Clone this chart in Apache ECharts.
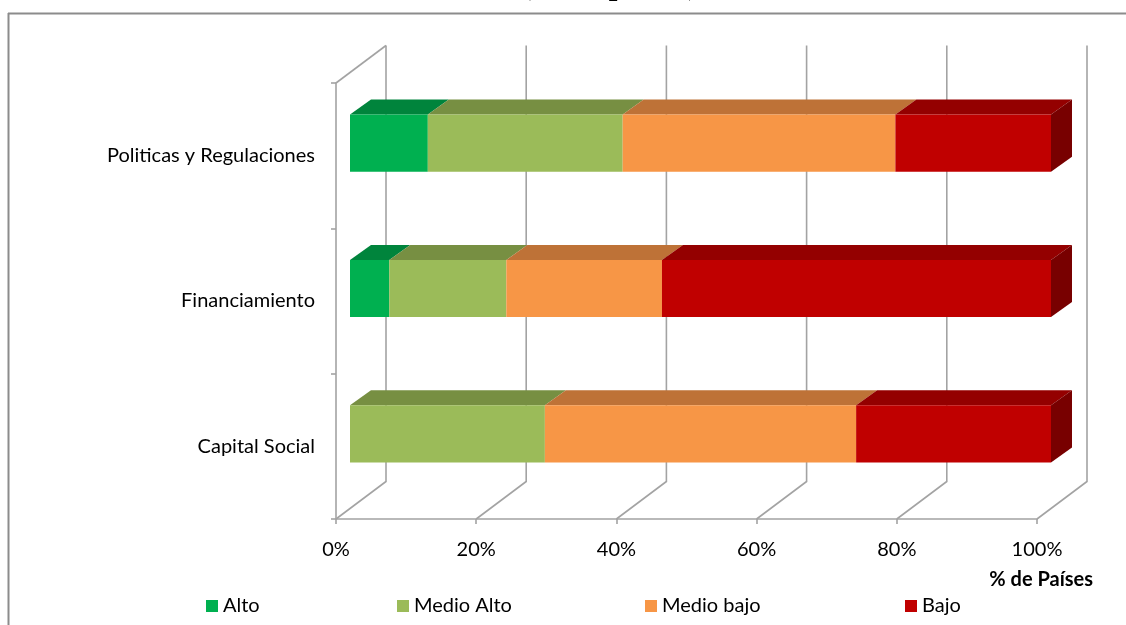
<!DOCTYPE html>
<html>
<head>
<meta charset="utf-8">
<style>
  html, body { margin: 0; padding: 0; background: #ffffff; }
  #chart { width: 1126px; height: 625px; }
</style>
<script src="https://cdn.jsdelivr.net/npm/echarts@6/dist/echarts.min.js"></script>
</head>
<body>
<div id="chart"></div>
<script>
// Categories (top to bottom) and share of countries per level, in %
const categories = ['Politicas y Regulaciones', 'Financiamiento', 'Capital Social'];
const alto = [11.1, 5.6, 0];
const medioAlto = [27.8, 16.7, 27.8];
const medioBajo = [38.9, 22.2, 44.4];
const bajo = [22.2, 55.5, 27.8];
const levelNames = ['Alto', 'Medio Alto', 'Medio bajo', 'Bajo'];
const xTicks = [0, 20, 40, 60, 80, 100];

// face colours: front, top, right side
const palette = [
  { front: '#00B050', top: '#00843C', side: '#006A30' },
  { front: '#9BBB59', top: '#778F42', side: '#5F7335' },
  { front: '#F79646', top: '#BE7237', side: '#98592A' },
  { front: '#C00000', top: '#940000', side: '#780000' }
];

const FONT = 'Lato, "Open Sans", sans-serif';
const DEPTH = [50, -37.5];      // full depth of the 3D box (floor/walls)
const BAR_FRONT = [14, -12.5];  // front face of each bar inside the depth
const BAR_DEPTH = [21, -15];    // thickness of each bar

const levels = [alto, medioAlto, medioBajo, bajo];

// stacked [start, end, categoryIndex] tuples per level
function stackedData(levelIdx) {
  return categories.map((c, i) => {
    let start = 0;
    for (let k = 0; k < levelIdx; k++) start += levels[k][i];
    return [start, start + levels[levelIdx][i], i];
  });
}

function barRenderer(levelIdx) {
  const col = palette[levelIdx];
  return function (params, api) {
    const start = api.value(0), end = api.value(1), cat = api.value(2);
    if (end - start <= 0) return;
    const a = api.coord([start, cat]);
    const b = api.coord([end, cat]);
    const band = api.size([0, 1])[1];
    const h = band * 0.393;
    const x0 = a[0] + BAR_FRONT[0];
    const x1 = b[0] + BAR_FRONT[0];
    const yc = a[1] + BAR_FRONT[1];
    const top = yc - h / 2, bot = yc + h / 2;
    const dx = BAR_DEPTH[0], dy = BAR_DEPTH[1];
    const children = [
      { type: 'polygon', shape: { points: [[x0, top], [x1, top], [x1 + dx, top + dy], [x0 + dx, top + dy]] },
        style: { fill: col.top } },
      { type: 'rect', shape: { x: x0, y: top, width: x1 - x0, height: h },
        style: { fill: col.front } }
    ];
    if (end >= 99.9) {
      children.push({ type: 'polygon',
        shape: { points: [[x1, top], [x1 + dx, top + dy], [x1 + dx, bot + dy], [x1, bot]] },
        style: { fill: col.side } });
    }
    return { type: 'group', children: children };
  };
}

// floor diagonals, back-wall gridlines and the left wall's top edge
function wallRenderer(params, api) {
  const cs = params.coordSys;
  const floorY = cs.y + cs.height;
  const topY = cs.y;
  const stroke = { stroke: '#a3a3a3', lineWidth: 1.6 };
  const children = [];
  xTicks.forEach(v => {
    const fx = api.coord([v, 0])[0];
    children.push({ type: 'polyline',
      shape: { points: [[fx, floorY], [fx + DEPTH[0], floorY + DEPTH[1]], [fx + DEPTH[0], topY + DEPTH[1]]] },
      style: Object.assign({ fill: null }, stroke) });
  });
  children.push({ type: 'line',
    shape: { x1: cs.x, y1: topY, x2: cs.x + DEPTH[0], y2: topY + DEPTH[1] },
    style: stroke });
  return { type: 'group', children: children };
}

const series = [{
  type: 'custom',
  name: 'walls',
  renderItem: wallRenderer,
  data: [[0, 0, 0]],
  encode: { x: 0, y: 2 },
  silent: true,
  clip: false,
  z: 1
}];
levelNames.forEach((name, idx) => {
  series.push({
    type: 'custom',
    name: name,
    renderItem: barRenderer(idx),
    data: stackedData(idx),
    encode: { x: [0, 1], y: 2 },
    itemStyle: { color: palette[idx].front },
    clip: false,
    z: 2
  });
});

const legendLefts = [201, 392, 640, 900];
const legends = levelNames.map((name, i) => ({
  data: [name],
  left: legendLefts[i],
  top: 591,
  icon: 'rect',
  itemWidth: 12,
  itemHeight: 12,
  selectedMode: false,
  textStyle: { fontFamily: FONT, fontSize: 20, color: '#000' }
}));

const chart = echarts.init(document.getElementById('chart'), null, { renderer: 'canvas' });
chart.setOption({
  animation: false,
  backgroundColor: '#ffffff',
  grid: { left: 336, right: 89, top: 83, bottom: 106 },
  xAxis: {
    type: 'value',
    min: 0,
    max: 100,
    interval: 20,
    axisLine: { show: true, lineStyle: { color: '#a3a3a3', width: 1.6 } },
    axisTick: { show: true, length: 5, lineStyle: { color: '#a3a3a3', width: 1.6 } },
    splitLine: { show: false },
    axisLabel: { formatter: '{value}%', fontFamily: FONT, fontSize: 20, color: '#000', margin: 21 }
  },
  yAxis: {
    type: 'category',
    inverse: true,
    data: categories,
    axisLine: { show: true, lineStyle: { color: '#a3a3a3', width: 1.6 } },
    axisTick: { show: true, length: 5, lineStyle: { color: '#a3a3a3', width: 1.6 } },
    splitLine: { show: false },
    axisLabel: { fontFamily: FONT, fontSize: 20, color: '#000', margin: 21, padding: [6, 0, 0, 0] }
  },
  legend: legends,
  series: series,
  graphic: [
    { type: 'line', shape: { x1: 8, y1: 13.5, x2: 1126, y2: 13.5 }, style: { stroke: '#8c8c8c', lineWidth: 2 }, z: 10 },
    { type: 'line', shape: { x1: 8.5, y1: 13, x2: 8.5, y2: 625 }, style: { stroke: '#8c8c8c', lineWidth: 2 }, z: 10 },
    { type: 'text', left: 521, top: -30,
      style: { text: '(% de países)', font: 'bold 31px "Liberation Serif", serif', fill: '#000' } },
    { type: 'text', right: 33, top: 570,
      style: { text: '% de Países', font: 'bold 20px ' + FONT, fill: '#000' } }
  ]
});
</script>
</body>
</html>
